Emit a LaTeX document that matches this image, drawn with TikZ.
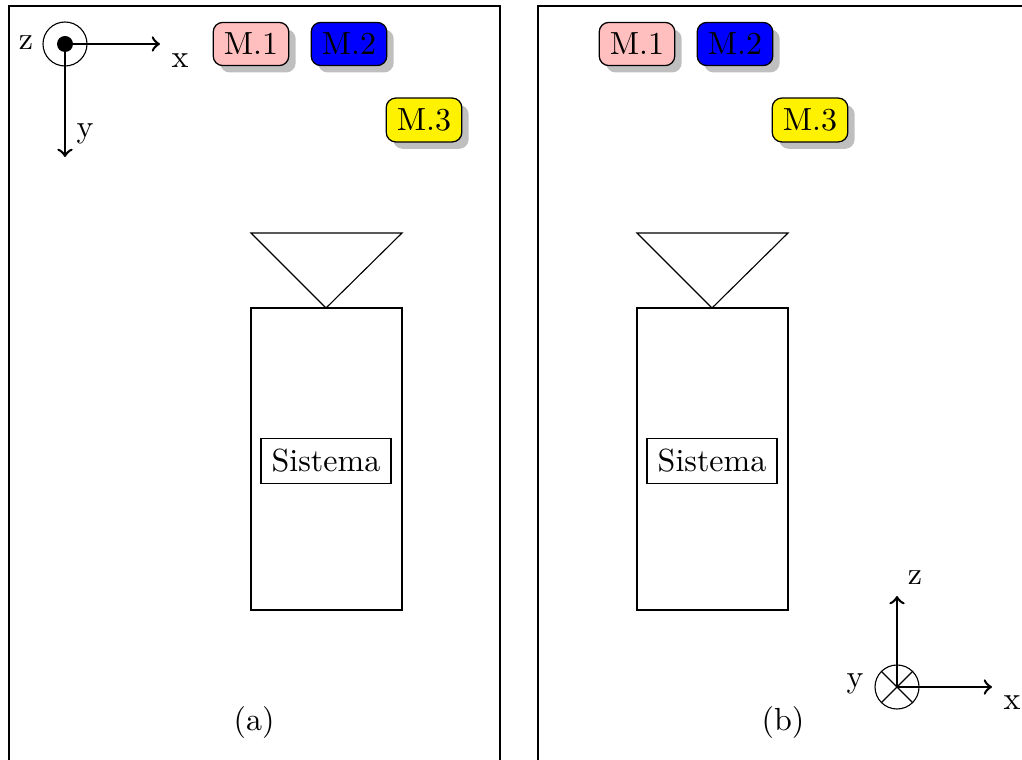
\documentclass[tikz,border=0pt]{standalone}
\usetikzlibrary{shadows}
\begin{document}
\begin{tikzpicture}[x=0.3125pt,y=-0.3125pt,
  tag/.style={draw,rounded corners=3pt,drop shadow,font=\normalsize},
  axis/.style={->,thick},
  thinline/.style={draw,line width=0.35pt},
  sys/.style={draw,line width=0.35pt,inner sep=3.33pt}]
\useasboundingbox (0,0) rectangle (1022,760);

% frames of the two panels
\draw[thinline] (9,800) -- (9,6) -- (500,6) -- (500,800);
\draw[thinline] (538,800) -- (538,6) -- (1100,6);

% ---------- panel (a) ----------
\coordinate (oa) at (65,44);
\coordinate (xa) at (160,44);
\coordinate (ya) at (65,157);
\draw[line width=0.35pt] (oa) circle[radius=22];
\fill (oa) circle[radius=8];
\draw[axis] (oa) -- (xa);
\draw[axis] (oa) -- (ya);
\node (lza) at (26,43) {z};
\node (lxa) at (180,61) {x};
\node (lya) at (85,134) {y};

\node[tag,fill=red!25] (m1a) at (251,44) {M.1};
\node[tag,fill=blue] (m2a) at (349,44) {M.2};
\node[tag,fill=yellow] (m3a) at (424,120) {M.3};

\draw[thinline] (251,233) -- (402,233) -- (326,308) -- cycle;
\draw[thinline] (251,308) rectangle (402,610);
\node[sys] (sa) at (326,461) {Sistema};
\node (capa) at (254,722) {(a)};

% ---------- panel (b) ----------
\node[tag,fill=red!25] (m1b) at (637,44) {M.1};
\node[tag,fill=blue] (m2b) at (735,44) {M.2};
\node[tag,fill=yellow] (m3b) at (810,120) {M.3};

\draw[thinline] (637,233) -- (788,233) -- (712,308) -- cycle;
\draw[thinline] (637,308) rectangle (788,610);
\node[sys] (sb) at (712,461) {Sistema};
\node (capb) at (783,722) {(b)};

\coordinate (ob) at (897,687);
\coordinate (zb) at (897,596);
\coordinate (xb) at (992,687);
\draw[line width=0.35pt] (ob) circle[radius=22];
\draw[line width=0.35pt] (ob) -- ++(45:22) (ob) -- ++(135:22) (ob) -- ++(225:22) (ob) -- ++(315:22);
\draw[axis] (ob) -- (zb);
\draw[axis] (ob) -- (xb);
\node (lzb) at (915,578) {z};
\node (lyb) at (855,684) {y};
\node (lxb) at (1012,703) {x};
\end{tikzpicture}
\end{document}
